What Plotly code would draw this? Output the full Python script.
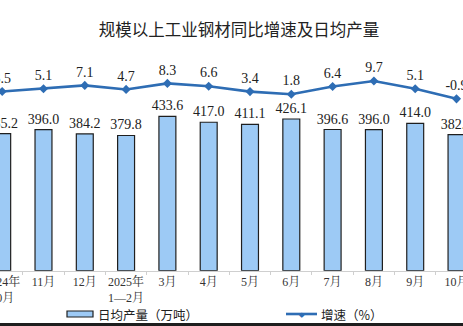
import plotly.graph_objects as go

categories = ["2024年<br>10月", "11月", "12月", "2025年<br>1—2月", "3月", "4月",
              "5月", "6月", "7月", "8月", "9月", "10月"]
daily_output = [385.2, 396.0, 384.2, 379.8, 433.6, 417.0, 411.1, 426.1, 396.6, 396.0, 414.0, 382.1]
growth = [3.5, 5.1, 7.1, 4.7, 8.3, 6.6, 3.4, 1.8, 6.4, 9.7, 5.1, -0.9]

W, H = 463, 326
x_idx = list(range(len(categories)))

SERIF = "Liberation Serif, Noto Serif CJK SC, Noto Sans CJK SC, serif"
CJK = "Noto Sans CJK SC, sans-serif"
BAR_FILL = "#9dcaf5"
LINE_COL = "#2e6db4"

fig = go.Figure()
fig.add_trace(go.Bar(
    x=x_idx, y=daily_output, width=0.41,
    marker=dict(color=BAR_FILL, line=dict(color="#1f1f1f", width=1.2)),
    text=[f"{v:.1f}" for v in daily_output], textposition="outside",
    constraintext="none",
    textfont=dict(family=SERIF, size=14, color="#222"),
    cliponaxis=False, showlegend=False, yaxis="y",
))
fig.add_trace(go.Scatter(
    x=x_idx, y=growth, mode="lines+markers+text",
    line=dict(color=LINE_COL, width=2.6),
    marker=dict(symbol="diamond", size=7, color=LINE_COL),
    text=[f"{v:.1f}" for v in growth], textposition="top center",
    textfont=dict(family=SERIF, size=14, color="#222"),
    cliponaxis=False, showlegend=False, yaxis="y2",
))

base_px = 270.7
dom0 = (H - base_px) / H
fig.update_layout(
    width=W, height=H, template="none",
    margin=dict(l=0, r=0, t=0, b=0),
    paper_bgcolor="white", plot_bgcolor="white",
    title=dict(text="规模以上工业钢材同比增速及日均产量", x=0.516, xanchor="center",
               y=1 - 30 / H, yanchor="middle",
               font=dict(family=CJK, size=16.5, color="#222")),
    xaxis=dict(range=[-0.053, 11.157], tickmode="array", tickvals=x_idx, ticktext=categories,
               showgrid=False, zeroline=False, showline=True, linecolor="#cfcfcf", linewidth=1,
               ticks="", automargin=False, ticklabeloverflow="allow",
               tickfont=dict(family=SERIF, size=12, color="#333"),
               minor=dict(ticks="outside", tick0=0.5, dtick=1, ticklen=3, tickcolor="#cfcfcf"),
               domain=[0, 1]),
    yaxis=dict(range=[0, base_px / 0.356], domain=[dom0, 1], visible=False, automargin=False),
    yaxis2=dict(range=[-(base_px - 97.32) / 1.68, 97.32 / 1.68], domain=[dom0, 1],
                overlaying="y", visible=False, automargin=False),
    showlegend=False,
)

def py(px):
    return 1 - px / H

def pxx(px):
    return px / W

# manual legend
fig.add_shape(type="rect", xref="paper", yref="paper",
              x0=pxx(67), x1=pxx(93), y0=py(317), y1=py(311),
              fillcolor=BAR_FILL, line=dict(color="#1f1f1f", width=1.2))
fig.add_annotation(xref="paper", yref="paper", x=pxx(96), y=py(314), xanchor="left", yanchor="middle",
                   text="日均产量（万吨）", showarrow=False,
                   font=dict(family=CJK, size=12.5, color="#222"))
fig.add_shape(type="line", xref="paper", yref="paper",
              x0=pxx(286), x1=pxx(317), y0=py(314), y1=py(314),
              line=dict(color=LINE_COL, width=2.6))
fig.add_annotation(xref="paper", yref="paper", x=pxx(301.5), y=py(314), text="◆", showarrow=False,
                   font=dict(size=7, color=LINE_COL), xanchor="center", yanchor="middle")
fig.add_annotation(xref="paper", yref="paper", x=pxx(319), y=py(314), xanchor="left", yanchor="middle",
                   text="增速（%）", showarrow=False,
                   font=dict(family=CJK, size=12.5, color="#222"))
# bottom dark border
fig.add_shape(type="rect", xref="paper", yref="paper", x0=0, x1=1, y0=0, y1=3 / H,
              fillcolor="#1e1e1e", line=dict(width=0), layer="above")

fig.write_html("out.html")
